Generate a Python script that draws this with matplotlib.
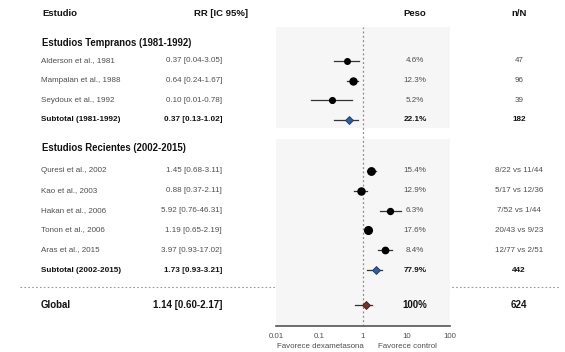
"""Forest plot: dexamethasone vs control, early and recent studies."""

import matplotlib
matplotlib.use("Agg")
import matplotlib.pyplot as plt
import numpy as np

plt.rcParams["font.family"] = ["Liberation Sans", "DejaVu Sans"]

# ---- data ----
labels = ["Alderson et al., 1981", "Mampalan et al., 1988", "Seydoux et al., 1992",
          "Subtotal (1981-1992)",
          "Quresi et al., 2002", "Kao et al., 2003", "Hakan et al., 2006",
          "Tonon et al., 2006", "Aras et al., 2015", "Subtotal (2002-2015)",
          "Global"]
rr_text = ["0.37 [0.04-3.05]", "0.64 [0.24-1.67]", "0.10 [0.01-0.78]",
           "0.37 [0.13-1.02]",
           "1.45 [0.68-3.11]", "0.88 [0.37-2.11]", "5.92 [0.76-46.31]",
           "1.19 [0.65-2.19]", "3.97 [0.93-17.02]", "1.73 [0.93-3.21]",
           "1.14 [0.60-2.17]"]
peso = [4.6, 12.3, 5.2, 22.1, 15.4, 12.9, 6.3, 17.6, 8.4, 77.9, 100]
n_text = ["47", "96", "39", "182", "8/22 vs 11/44", "5/17 vs 12/36",
          "7/52 vs 1/44", "20/43 vs 9/23", "12/77 vs 2/51", "442", "624"]
kind = ["study", "study", "study", "sub", "study", "study", "study",
        "study", "study", "sub", "global"]
# marker and whisker positions as drawn in the reference
est_drawn = [0.42, 0.59, 0.19, 0.47, 1.5, 0.89, 4.23, 1.28, 3.18, 2.02, 1.15]
lo_drawn = [0.22, 0.42, 0.065, 0.21, 1.26, 0.62, 2.5, 1.09, 2.17, 1.26, 0.66]
hi_drawn = [0.80, 0.785, 0.57, 0.76, 2.02, 1.26, 7.3, 1.5, 4.7, 2.78, 1.64]
groups = ["Estudios Tempranos (1981-1992)", "Estudios Recientes (2002-2015)"]
xticks = [0.01, 0.1, 1, 10, 100]
xtick_labels = ["0.01", "0.1", "1", "10", "100"]

# ---- layout (pixel coords, y down) ----
W, H = 565, 352
row_y = [61, 80.5, 100, 119.5, 171, 190.5, 210.5, 230, 250, 270, 305]
group_y = [42.7, 148]
head_y = 13
x_name, x_rr, x_peso, x_n = 41, 222, 415, 519
ax_l, ax_r, ax_t, ax_b = 276, 450, 26.7, 325.7
panels = [(26.7, 128.3), (139.3, ax_b)]

fig = plt.figure(figsize=(W / 100, H / 100), dpi=100)


def pixel_axes(z):
    a = fig.add_axes([0, 0, 1, 1], zorder=z)
    a.set_xlim(0, W)
    a.set_ylim(H, 0)
    a.axis("off")
    return a


bg = pixel_axes(-1)
fg = pixel_axes(5)

dark = "#111111"
grey = "#4f4f4f"

# column headers
fg.text(42, head_y, "Estudio", ha="left", va="center", fontsize=6.8, fontweight="bold", color=dark)
fg.text(248, head_y, "RR [IC 95%]", ha="right", va="center", fontsize=6.8, fontweight="bold", color=dark)
fg.text(x_peso, head_y, "Peso", ha="center", va="center", fontsize=6.8, fontweight="bold", color=dark)
fg.text(x_n, head_y, "n/N", ha="center", va="center", fontsize=6.8, fontweight="bold", color=dark)

for g, y in zip(groups, group_y):
    fg.text(42, y, g, ha="left", va="center", fontsize=6.9, fontweight="bold", color=dark)

for lab, rr, p, n, k, y in zip(labels, rr_text, peso, n_text, kind, row_y):
    if k == "study":
        kw = dict(fontsize=5.8, color=grey)
    elif k == "sub":
        kw = dict(fontsize=5.9, color=dark, fontweight="bold")
    else:
        kw = dict(fontsize=7.0, color=dark, fontweight="bold")
    ptxt = "100%" if p == 100 else f"{p:.1f}%"
    fg.text(x_name, y, lab, ha="left", va="center", **kw)
    fg.text(x_rr, y, rr, ha="right", va="center", **kw)
    fg.text(x_peso, y, ptxt, ha="center", va="center", **kw)
    fg.text(x_n, y, n, ha="center", va="center", **kw)

# separator above Global (hidden behind the grey panel)
bg.plot([20, 560], [286.7, 286.7], color="#9a9a9a", lw=0.8, ls=(0, (1.5, 2)))

fg.text(320, 346.5, "Favorece dexametasona", ha="center", va="center", fontsize=5.7, color=grey)
fg.text(407, 346.5, "Favorece control", ha="center", va="center", fontsize=5.7, color=grey)

# ---- forest panel ----
ax = fig.add_axes([ax_l / W, 1 - ax_b / H, (ax_r - ax_l) / W, (ax_b - ax_t) / H], zorder=0)
ax.set_facecolor("none")
ax.set_xscale("log")
ax.set_xlim(0.01, 100)
ax.set_ylim(ax_b, ax_t)
for top, bot in panels:
    ax.axhspan(top, bot, color="#f6f6f6", zorder=0, lw=0)
ax.axvline(1, color="#8a8a8a", lw=0.9, ls=(0, (1.5, 2)), zorder=1)

for e, lo, hi, p, k, y in zip(est_drawn, lo_drawn, hi_drawn, peso, kind, row_y):
    ax.plot([lo, hi], [y, y], color="#333333", lw=0.9, zorder=2)
    if k == "study":
        ax.plot(e, y, "o", color="black", ms=2.4 + 0.75 * np.sqrt(p), zorder=3)
    elif k == "sub":
        ax.plot(e, y, "D", mfc="#2f5d9e", mec="#1d3a66", mew=0.6, ms=4.0, zorder=3)
    else:
        ax.plot(e, y, "D", mfc="#7a2e2e", mec="#4a1a1a", mew=0.6, ms=4.0, zorder=3)

for s in ("top", "left", "right"):
    ax.spines[s].set_visible(False)
ax.spines["bottom"].set_color("#555555")
ax.spines["bottom"].set_linewidth(1.2)
ax.set_yticks([])
ax.set_xticks(xticks)
ax.set_xticklabels(xtick_labels)
ax.minorticks_off()
ax.tick_params(axis="x", length=0, pad=5, labelsize=5.7, labelcolor=grey)

fig.savefig("out.png", dpi=100)
